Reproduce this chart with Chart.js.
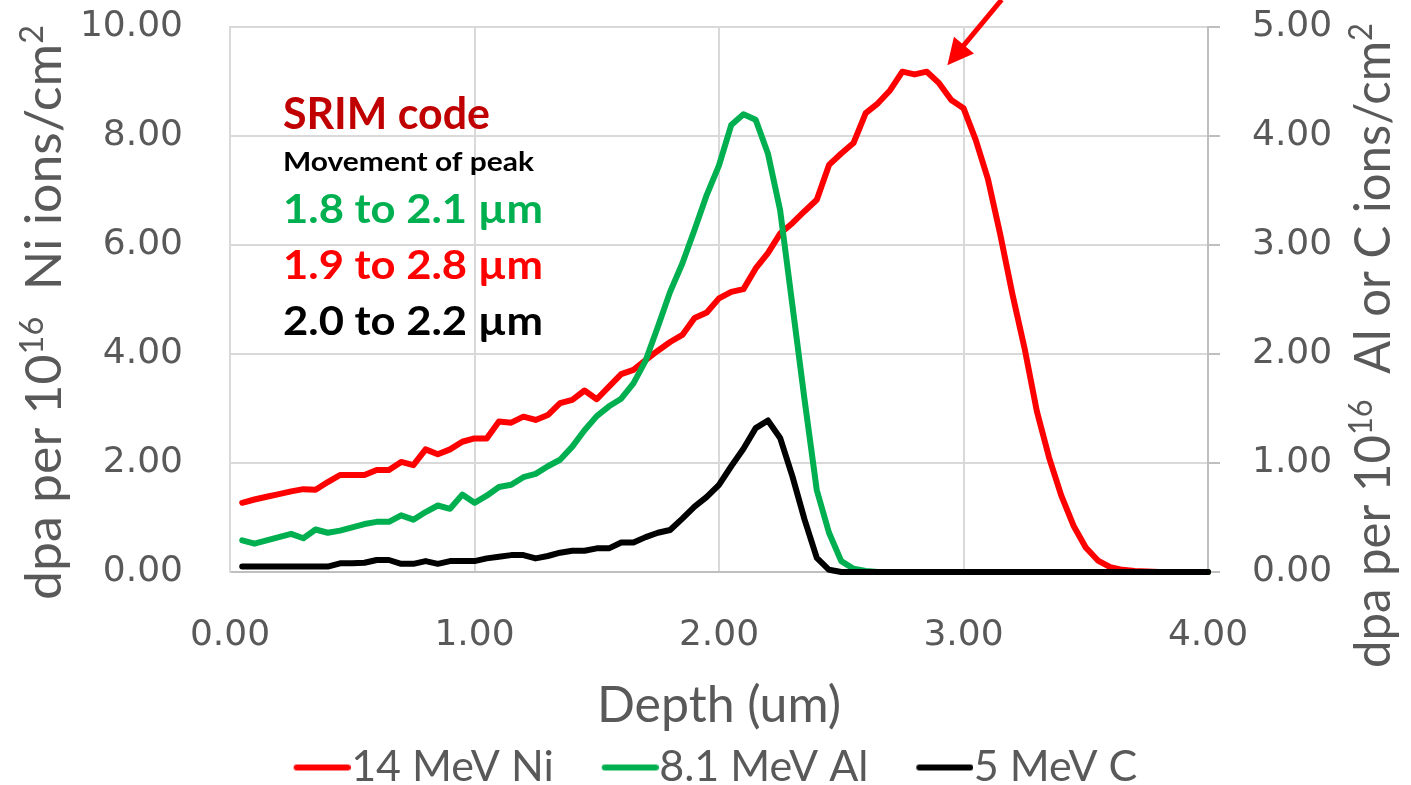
<!DOCTYPE html>
<html><head><meta charset="utf-8">
<script src="https://cdn.jsdelivr.net/npm/chart.js@4.4.1/dist/chart.umd.min.js"></script>
<style>html,body{margin:0;padding:0;background:#fff;}canvas{display:block;}</style>
</head><body>
<canvas id="c" width="1411" height="785"></canvas>
<script>
// ---------- data ----------
const depth = [0.05,0.10,0.15,0.20,0.25,0.30,0.35,0.40,0.45,0.50,
  0.55,0.60,0.65,0.70,0.75,0.80,0.85,0.90,0.95,1.00,
  1.05,1.10,1.15,1.20,1.25,1.30,1.35,1.40,1.45,1.50,
  1.55,1.60,1.65,1.70,1.75,1.80,1.85,1.90,1.95,2.00,
  2.05,2.10,2.15,2.20,2.25,2.30,2.35,2.40,2.45,2.50,
  2.55,2.60,2.65,2.70,2.75,2.80,2.85,2.90,2.95,3.00,
  3.05,3.10,3.15,3.20,3.25,3.30,3.35,3.40,3.45,3.50,
  3.55,3.60,3.65,3.70,3.75,3.80,3.85,3.90,3.95,4.00];
const ni14 = [1.27,1.33,1.38,1.43,1.48,1.52,1.51,1.65,1.78,1.78,
  1.78,1.87,1.87,2.02,1.96,2.25,2.16,2.25,2.39,2.45,
  2.45,2.76,2.74,2.85,2.79,2.88,3.10,3.16,3.33,3.17,
  3.40,3.63,3.71,3.89,4.06,4.22,4.35,4.66,4.76,5.02,
  5.14,5.19,5.57,5.85,6.21,6.40,6.62,6.83,7.47,7.68,
  7.87,8.42,8.60,8.84,9.18,9.13,9.18,8.97,8.66,8.51,
  7.93,7.21,6.20,5.10,4.10,2.95,2.10,1.40,0.85,0.45,
  0.21,0.09,0.04,0.02,0.01,0,0,0,0,0];
const al81 = [0.29,0.26,0.29,0.32,0.35,0.31,0.39,0.36,0.38,0.41,
  0.44,0.46,0.46,0.52,0.48,0.55,0.61,0.58,0.71,0.635,
  0.70,0.78,0.80,0.87,0.90,0.97,1.03,1.15,1.30,1.43,
  1.52,1.59,1.73,1.94,2.25,2.57,2.83,3.14,3.46,3.73,
  4.10,4.20,4.15,3.84,3.32,2.45,1.58,0.75,0.36,0.10,
  0.03,0.01,0,0,0,0,0,0,0,0,
  0,0,0,0,0,0,0,0,0,0,
  0,0,0,0,0,0,0,0,0,0];
const c5 = [0.05,0.05,0.05,0.05,0.05,0.05,0.05,0.05,0.08,0.08,
  0.085,0.11,0.11,0.075,0.075,0.10,0.075,0.10,0.10,0.10,
  0.125,0.14,0.155,0.155,0.125,0.147,0.177,0.195,0.195,0.217,
  0.217,0.27,0.27,0.32,0.36,0.385,0.49,0.60,0.69,0.80,
  0.97,1.13,1.32,1.39,1.23,0.88,0.48,0.13,0.02,0,
  0,0,0,0,0,0,0,0,0,0,
  0,0,0,0,0,0,0,0,0,0,
  0,0,0,0,0,0,0,0,0,0];
const seriesNames = ['14 MeV Ni','8.1 MeV Al','5 MeV C'];
const seriesColors = ['#FF0000','#00B050','#000000'];
const xTitle = 'Depth (um)';
const leftTitle = [{t:'dpa per 10'},{t:'16',sup:true},{t:'  Ni ions/cm'},{t:'2',sup:true}];
const rightTitle = [{t:'dpa per 10'},{t:'16',sup:true},{t:'  Al or C ions/cm'},{t:'2',sup:true}];
const noteLines = ['SRIM code','Movement of peak','1.8 to 2.1 µm','1.9 to 2.8 µm','2.0 to 2.2 µm'];
const noteColors = ['#C00000','#000000','#00B050','#FF0000','#000000'];
// arrow (data coords: depth, left-axis dpa)
const arrowFrom = {x:3.156, y:10.5};
const arrowTo = {x:2.934, y:9.30};

// ---------- helpers ----------
const pts = vals => depth.map((d,i)=>({x:d,y:vals[i]}));
function makeMark(color){
  const c=document.createElement('canvas'); c.width=78; c.height=10;
  const g=c.getContext('2d'); g.strokeStyle=color; g.lineWidth=6; g.lineCap='round';
  g.beginPath(); g.moveTo(24,5); g.lineTo(75,5); g.stroke(); return c;
}
const marks = seriesColors.map(makeMark);

function drawRuns(ctx, runs, family, weight, size, color, x, y, targetLen, rotated){
  ctx.save();
  ctx.translate(x,y);
  if(rotated) ctx.rotate(-Math.PI/2);
  const fontFor = r => `${weight} ${r.sup?Math.round(size*0.62):size}px ${family}`;
  const widths=[]; let total=0;
  runs.forEach(r=>{ctx.font=fontFor(r); const w=ctx.measureText(r.t).width; widths.push(w); total+=w;});
  const k = targetLen ? targetLen/total : 1;
  ctx.scale(k,1);
  ctx.fillStyle=color; ctx.textAlign='left'; ctx.textBaseline='alphabetic';
  let cx=0;
  runs.forEach((r,i)=>{ctx.font=fontFor(r); ctx.fillText(r.t,cx,r.sup?-size*0.36:0); cx+=widths[i];});
  ctx.restore();
}

const extras = {
  id:'extras',
  afterDraw(chart){
    const ctx=chart.ctx;
    // axis titles (read bottom-to-top)
    drawRuns(ctx, leftTitle, 'Lato, "Liberation Sans", sans-serif', 'normal', 51, '#595959', 61, 600, 575, true);
    drawRuns(ctx, rightTitle, 'Lato, "Liberation Sans", sans-serif', 'normal', 51, '#595959', 1390, 668, 645, true);
    // annotation text
    const spec = [
      {size:43, y:129, w:207},
      {size:26, y:170.5, w:251},
      {size:41, y:223, w:260},
      {size:41, y:279, w:260},
      {size:41, y:335, w:260}
    ];
    noteLines.forEach((t,i)=>{
      drawRuns(ctx, [{t}], 'Lato, "Liberation Sans", sans-serif', 'bold', spec[i].size, noteColors[i], 283, spec[i].y, spec[i].w, false);
    });
    // arrow
    const xs=chart.scales.x, ys=chart.scales.y;
    const x0=xs.getPixelForValue(arrowFrom.x), y0=ys.getPixelForValue(arrowFrom.y);
    const x1=xs.getPixelForValue(arrowTo.x), y1=ys.getPixelForValue(arrowTo.y);
    const ang=Math.atan2(y1-y0,x1-x0), hl=26, hw=13;
    const bx=x1-hl*Math.cos(ang), by=y1-hl*Math.sin(ang);
    ctx.save();
    ctx.strokeStyle='#FF0000'; ctx.fillStyle='#FF0000'; ctx.lineWidth=5;
    ctx.beginPath(); ctx.moveTo(x0,y0); ctx.lineTo(bx+2*Math.cos(ang),by+2*Math.sin(ang)); ctx.stroke();
    ctx.beginPath();
    ctx.moveTo(x1,y1);
    ctx.lineTo(bx+hw*Math.sin(ang), by-hw*Math.cos(ang));
    ctx.lineTo(bx-hw*Math.sin(ang), by+hw*Math.cos(ang));
    ctx.closePath(); ctx.fill();
    ctx.restore();
  }
};

const tickFont = {family:'"DejaVu Sans", Verdana, sans-serif', size:36};
const fmt2 = v => Number(v).toFixed(2);
const fitY = w => s => { s.width = w; s.paddingTop = 0; s.paddingBottom = 0; };

new Chart(document.getElementById('c'), {
  type:'line',
  data:{datasets:[
    {label:seriesNames[0], data:pts(ni14), yAxisID:'y', borderColor:seriesColors[0], backgroundColor:seriesColors[0], order:3},
    {label:seriesNames[1], data:pts(al81), yAxisID:'y1', borderColor:seriesColors[1], backgroundColor:seriesColors[1], order:2},
    {label:seriesNames[2], data:pts(c5), yAxisID:'y1', borderColor:seriesColors[2], backgroundColor:seriesColors[2], order:1}
  ]},
  options:{
    responsive:false, animation:false, devicePixelRatio:1,
    layout:{padding:{top:27,left:20,right:0,bottom:-14}},
    datasets:{line:{borderWidth:6, pointRadius:0, pointHoverRadius:0, tension:0, borderJoinStyle:'round', borderCapStyle:'round', clip:8, fill:false}},
    plugins:{
      tooltip:{enabled:false},
      legend:{
        position:'bottom',
        labels:{
          font:{family:'Lato, "Liberation Sans", sans-serif', size:43},
          color:'#595959', padding:48, usePointStyle:true, pointStyleWidth:36, boxHeight:10,
          generateLabels: chart => chart.data.datasets.map((ds,i)=>({
            text: ds.label, fillStyle: ds.borderColor, strokeStyle: ds.borderColor, lineWidth:0,
            pointStyle: marks[i], hidden: !chart.isDatasetVisible(i), datasetIndex:i, fontColor:'#595959'
          }))
        }
      }
    },
    scales:{
      x:{
        type:'linear', min:0, max:4,
        afterFit: s => { s.height = 126; },
        ticks:{stepSize:1, callback:fmt2, font:tickFont, color:'#595959', padding:42, maxRotation:0},
        grid:{color:'#D9D9D9', lineWidth:2, drawTicks:false},
        border:{color:'#BFBFBF', width:2},
        title:{display:true, text:xTitle, color:'#595959', font:{family:'Lato, "Liberation Sans", sans-serif', size:50}, padding:{top:0,bottom:-38}}
      },
      y:{
        position:'left', min:0, max:10,
        afterFit: fitY(210),
        ticks:{stepSize:2, callback:fmt2, font:tickFont, color:'#595959', padding:47},
        grid:{color:'#D9D9D9', lineWidth:2, drawTicks:false},
        border:{color:'#D9D9D9', width:2}
      },
      y1:{
        position:'right', min:0, max:5,
        afterFit: fitY(203),
        ticks:{stepSize:1, callback:fmt2, font:tickFont, color:'#595959', padding:32},
        grid:{drawOnChartArea:false, drawTicks:true, tickLength:12, color:'#BFBFBF', lineWidth:2},
        border:{color:'#BFBFBF', width:2}
      }
    }
  },
  plugins:[extras]
});
</script>
</body></html>
